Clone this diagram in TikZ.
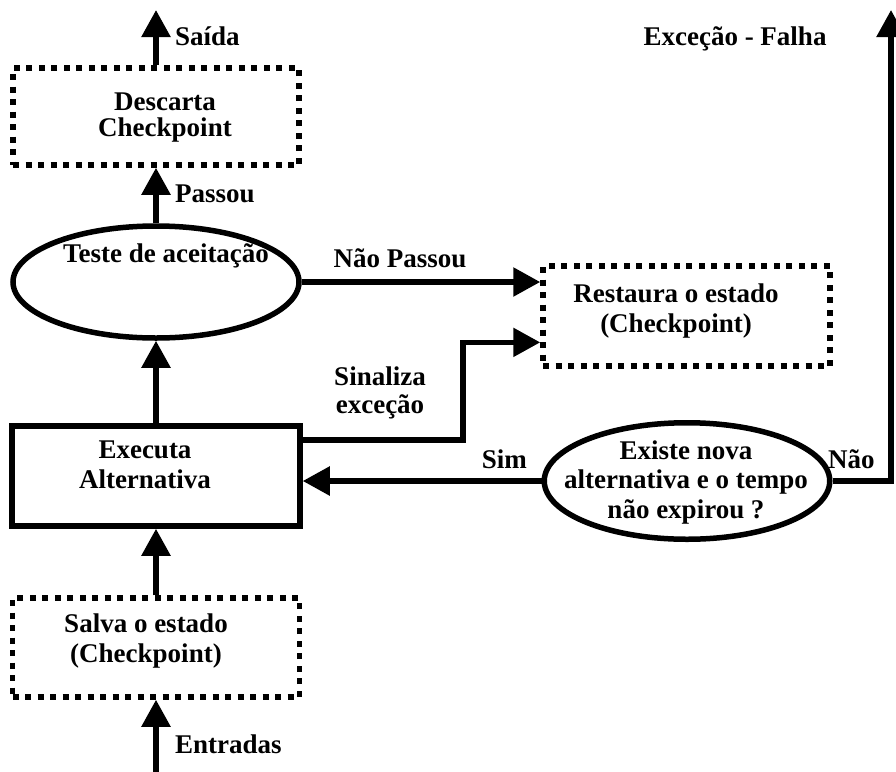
\documentclass[tikz,border=0pt]{standalone}
\usepackage{fontspec}
\setmainfont{Liberation Serif}
\usetikzlibrary{arrows.meta,shapes.geometric,calc}

\tikzset{
  lbl/.style={font=\bfseries\fontsize{27}{29.5}\selectfont, inner sep=0pt, align=center, anchor=base},
  dotbox/.style={draw, rectangle, line width=5.5pt, dash pattern=on 6pt off 6.5pt, inner sep=0pt},
  solidbox/.style={draw, rectangle, line width=5.5pt, inner sep=0pt},
  oval/.style={draw, ellipse, line width=5.5pt, inner sep=0pt},
  flow/.style={line width=5.5pt, -{Triangle[length=27pt, width=28pt]}}
}

\begin{document}
\begin{tikzpicture}[x=1pt, y=-1pt]
\useasboundingbox (0,0) rectangle (896,771);

% boxes and decisions
\node[dotbox, minimum width=286pt, minimum height=97pt] (desc) at (156,116.5) {};
\node[oval, minimum width=286pt, minimum height=112pt] (teste) at (156,282) {};
\node[solidbox, minimum width=288pt, minimum height=100pt] (exec) at (156,476) {};
\node[dotbox, minimum width=287pt, minimum height=100pt] (rest) at (686.5,316) {};
\node[oval, minimum width=285.5pt, minimum height=116.5pt] (exist) at (687,481) {};
\node[dotbox, minimum width=287pt, minimum height=99pt] (salva) at (156,647.5) {};

% texts inside the shapes (multi-line nodes sit on the baseline of their last line)
\node[lbl, font=\bfseries\fontsize{27}{26}\selectfont] (tdesc) at (165,136) {Descarta\\Checkpoint};
\node[lbl] (tteste) at (166,262) {Teste de aceitação};
\node[lbl] (texec) at (145,488) {Executa\\Alternativa};
\node[lbl] (trest) at (676,332) {Restaura o estado\\(Checkpoint)};
\node[lbl] (texist) at (686,518) {Existe nova\\alternativa e o tempo\\não expirou ?};
\node[lbl] (tsalva) at (146,662) {Salva o estado\\(Checkpoint)};

% free ends of the outer arrows
\coordinate (saida) at (156,10);
\coordinate (falha) at (891,10);
\coordinate (entrada) at (156,780);

% connectors
\draw[flow] (entrada) -- (salva.south);
\draw[flow] (salva.north) -- (exec.south);
\draw[flow] (exec.north) -- (teste.south);
\draw[flow] (teste.north) -- (desc.south);
\draw[flow] (desc.north) -- (saida);
\draw[flow] (teste.east) -- (teste.east -| rest.west);
\draw[flow] ($(exec.north east)!0.16!(exec.south east)$) -- ++(160,0)
  |- ($(rest.north west)!0.75!(rest.south west)$);
\draw[flow] (exist.west) -- (exist.west -| exec.east);
\draw[flow] (exist.east) -| (falha);

% connector labels
\node[lbl, anchor=base west] (lsaida) at (175,45) {Saída};
\node[lbl, anchor=base west] (lpassou) at (175,202) {Passou};
\node[lbl] (lnaopassou) at (400,267) {Não Passou};
\node[lbl, font=\bfseries\fontsize{27}{28}\selectfont] (lsinaliza) at (380,413) {Sinaliza\\exceção};
\node[lbl, anchor=base east] (lsim) at (527,468) {Sim};
\node[lbl, anchor=base west] (lnao) at (828,468) {Não};
\node[lbl] (lfalha) at (735,45) {Exceção - Falha};
\node[lbl, anchor=base west] (lentradas) at (175,753) {Entradas};
\end{tikzpicture}
\end{document}
